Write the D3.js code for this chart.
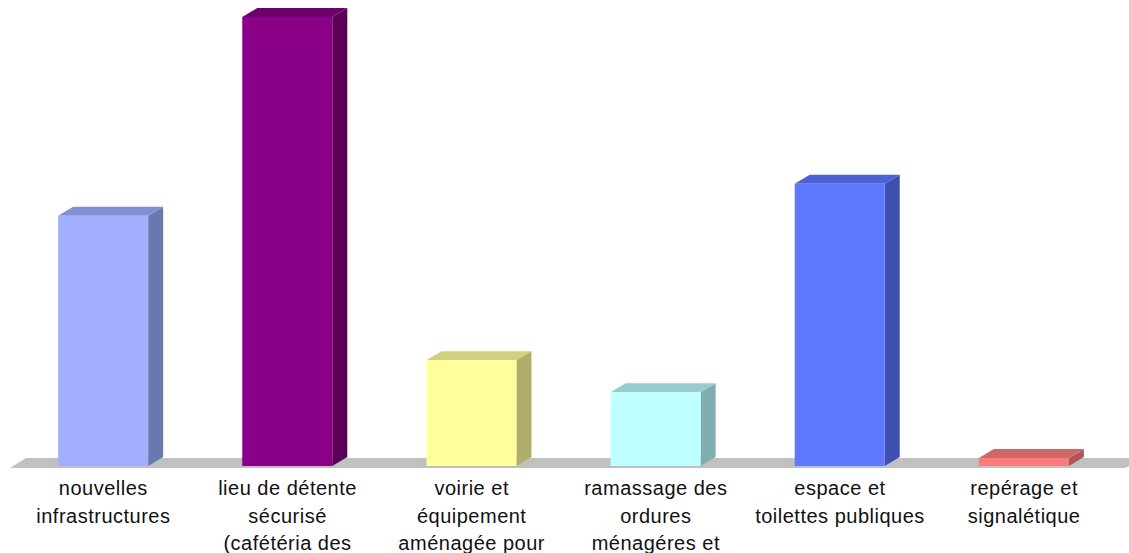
<!DOCTYPE html>
<html>
<head>
<meta charset="utf-8">
<script src="https://cdn.jsdelivr.net/npm/d3@7"></script>
<style>
  html, body { margin: 0; padding: 0; background: #fff; overflow: hidden; }
  svg { display: block; }
  .lbl { font-family: "Liberation Sans", Arial, sans-serif; font-size: 20px; letter-spacing: 0.5px; fill: #111; }
</style>
</head>
<body>
<svg id="chart" width="1129" height="553"></svg>
<script>
// Categories (wrapped label lines) and values
const categories = [
  ["nouvelles", "infrastructures"],
  ["lieu de détente", "sécurisé", "(cafétéria des"],
  ["voirie et", "équipement", "aménagée pour"],
  ["ramassage des", "ordures", "ménagéres et"],
  ["espace et", "toilettes publiques"],
  ["repérage et", "signalétique"]
];
const values = [31.2, 56, 13.2, 9.2, 35.2, 1];
const frontColors = ["#A3AEFF", "#8A0087", "#FFFF9C", "#C0FFFF", "#6078FF", "#FF7A7A"];
const topColors   = ["#8290D8", "#6E006B", "#D0D080", "#99CCCC", "#4A62D6", "#D06868"];
const sideColors  = ["#6B78B0", "#5A0055", "#AEAE68", "#80ADAD", "#4050B0", "#B05656"];

const svg = d3.select("#chart");
const W = 1129, H = 553;
const baseY = 466;          // front bottom of bars
const depthX = 15, depthY = 9;

const keys = categories.map((c, i) => i);
const x = d3.scaleBand().domain(keys).range([-36, 1163]).padding(0.511);
const y = d3.scaleLinear().domain([0, 56]).range([baseY, 17]);

// floor
const floorTop = baseY - 8, floorBot = baseY + 2;
svg.append("path")
  .attr("d", `M10,${floorBot} L${10 + 16},${floorTop} L${W + 20},${floorTop} L1125,${floorBot} Z`)
  .attr("fill", "#C0C0C0");

// bars
const g = svg.append("g");
keys.forEach(i => {
  const x0 = x(i), x1 = x0 + x.bandwidth();
  const yt = y(values[i]);
  // side face
  g.append("path")
    .attr("d", `M${x1},${yt} L${x1 + depthX},${yt - depthY} L${x1 + depthX},${baseY - depthY} L${x1},${baseY} Z`)
    .attr("fill", sideColors[i]);
  // top face
  g.append("path")
    .attr("d", `M${x0},${yt} L${x0 + depthX},${yt - depthY} L${x1 + depthX},${yt - depthY} L${x1},${yt} Z`)
    .attr("fill", topColors[i]);
  // front face
  g.append("rect")
    .attr("x", x0).attr("y", yt)
    .attr("width", x.bandwidth()).attr("height", baseY - yt)
    .attr("fill", frontColors[i]);
});

// category labels (letter-spacing adds a trailing gap, so nudge right by half of it)
keys.forEach(i => {
  const cx = x(i) + x.bandwidth() / 2 + 0.25;
  const t = svg.append("text").attr("class", "lbl").attr("text-anchor", "middle");
  categories[i].forEach((line, j) => {
    t.append("tspan").attr("x", cx).attr("y", 495 + j * 27.5).text(line);
  });
});
</script>
</body>
</html>
